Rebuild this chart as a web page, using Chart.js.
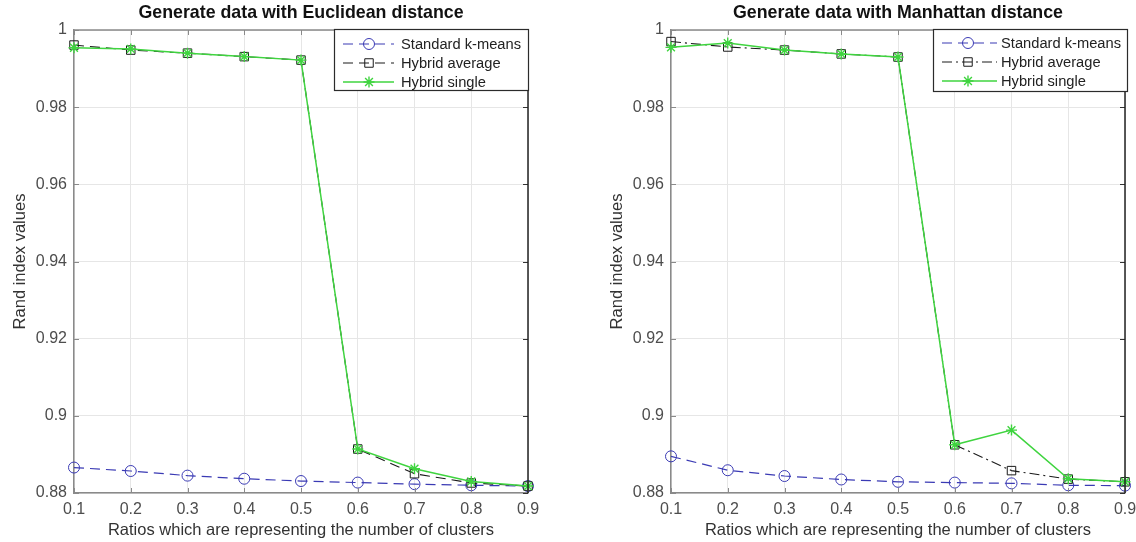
<!DOCTYPE html>
<html>
<head>
<meta charset="utf-8">
<script src="https://cdn.jsdelivr.net/npm/chart.js@4/dist/chart.umd.min.js"></script>
<style>
  html, body { margin: 0; padding: 0; background: #ffffff; }
  #wrap { position: relative; width: 1136px; height: 542px; overflow: hidden; }
  .panel { position: absolute; top: 0; height: 542px; }
</style>
</head>
<body>
<div id="wrap">
  <div class="panel" style="left:0;width:560px"><canvas id="euclid" width="560" height="542"></canvas></div>
  <div class="panel" style="left:568px;width:568px"><canvas id="manhattan" width="568" height="542"></canvas></div>
</div>
<script>
// Ratios on the x axis and the Rand index tick marks
const xTickLabels = ['0.1', '0.2', '0.3', '0.4', '0.5', '0.6', '0.7', '0.8', '0.9'];
const yTickValues = [0.88, 0.9, 0.92, 0.94, 0.96, 0.98, 1];
const yTickLabels = ['0.88', '0.9', '0.92', '0.94', '0.96', '0.98', '1'];

const seriesNames = ['Standard k-means', 'Hybrid average', 'Hybrid single'];

// Euclidean distance
const kmeansEuclid  = [0.8866, 0.8857, 0.8845, 0.8837, 0.8831, 0.8827, 0.8823, 0.8820, 0.8818];
const averageEuclid = [0.9961, 0.9948, 0.9940, 0.9931, 0.9922, 0.8914, 0.8850, 0.8826, 0.8818];
const singleEuclid  = [0.9954, 0.9951, 0.9940, 0.9931, 0.9922, 0.8914, 0.8863, 0.8830, 0.8818];

// Manhattan distance
const kmeansManhattan  = [0.8895, 0.8859, 0.8844, 0.8835, 0.8829, 0.8827, 0.8825, 0.8820, 0.8819];
const averageManhattan = [0.9970, 0.9956, 0.9948, 0.9938, 0.9930, 0.8925, 0.8858, 0.8836, 0.8829];
const singleManhattan  = [0.9955, 0.9966, 0.9948, 0.9938, 0.9930, 0.8925, 0.8963, 0.8837, 0.8829];

const FONT = '"Liberation Sans", Arial, Helvetica, sans-serif';
const BLUE = '#3a3ab4';
const BLACK = '#1a1a1a';
const GREEN = '#3fd43f';

// Title centred over the plot area
const plotTitle = {
  id: 'plotTitle',
  afterDraw(chart, args, opts) {
    const { ctx, chartArea } = chart;
    ctx.save();
    ctx.font = 'bold 17.8px ' + FONT;
    ctx.fillStyle = '#111';
    ctx.textAlign = 'center';
    ctx.textBaseline = 'middle';
    ctx.fillText(opts.text, (chartArea.left + chartArea.right) / 2, 13);
    ctx.restore();
  }
};

// Box around the plot with inward tick marks on all four sides
const axesBox = {
  id: 'axesBox',
  afterDatasetsDraw(chart) {
    const { ctx, chartArea: a, scales } = chart;
    const L = 5;
    ctx.save();
    ctx.lineWidth = 1;
    ctx.strokeStyle = '#8a8a8a';
    ctx.beginPath();
    scales.x.ticks.forEach((t, i) => {
      const px = Math.round(scales.x.getPixelForTick(i)) + 0.5;
      ctx.moveTo(px, a.bottom); ctx.lineTo(px, a.bottom - L);
      ctx.moveTo(px, a.top); ctx.lineTo(px, a.top + L);
    });
    yTickValues.forEach(v => {
      const py = Math.round(scales.y.getPixelForValue(v)) + 0.5;
      ctx.moveTo(a.left, py); ctx.lineTo(a.left + L, py);
    });
    ctx.stroke();
    ctx.strokeStyle = '#333';
    ctx.beginPath();
    yTickValues.forEach(v => {
      const py = Math.round(scales.y.getPixelForValue(v)) + 0.5;
      ctx.moveTo(a.right, py); ctx.lineTo(a.right - L, py);
    });
    ctx.stroke();
    ctx.lineWidth = 1.5;
    ctx.strokeStyle = '#8a8a8a';
    ctx.beginPath();
    ctx.moveTo(a.left, a.top); ctx.lineTo(a.right, a.top);
    ctx.stroke();
    ctx.strokeStyle = '#222';
    ctx.beginPath();
    ctx.moveTo(a.right, a.top); ctx.lineTo(a.right, a.bottom);
    ctx.stroke();
    ctx.restore();
  }
};

// Legend box in the upper right corner of the plot
const insetLegend = {
  id: 'insetLegend',
  afterDraw(chart, args, o) {
    const { ctx, chartArea } = chart;
    const x0 = chartArea.right + o.dx - o.width;
    const y0 = chartArea.top + o.dy;
    ctx.save();
    ctx.fillStyle = '#fff';
    ctx.fillRect(x0, y0, o.width, o.height);
    ctx.strokeStyle = '#2b2b2b';
    ctx.lineWidth = 1.2;
    ctx.strokeRect(x0 + 0.5, y0 + 0.5, o.width, o.height);
    chart.data.datasets.forEach((ds, i) => {
      const y = y0 + o.rowTop + i * o.rowGap;
      ctx.strokeStyle = ds.borderColor;
      ctx.lineWidth = ds.borderWidth;
      ctx.setLineDash(ds.borderDash || []);
      ctx.beginPath();
      ctx.moveTo(x0 + o.lineStart, y);
      ctx.lineTo(x0 + o.lineEnd, y);
      ctx.stroke();
      ctx.setLineDash([]);
      ctx.fillStyle = 'rgba(0,0,0,0)';
      ctx.strokeStyle = ds.pointBorderColor;
      ctx.lineWidth = ds.pointBorderWidth;
      Chart.helpers.drawPoint(ctx, {
        pointStyle: ds.pointStyle, rotation: 0,
        radius: ds.pointRadius, borderWidth: ds.pointBorderWidth
      }, x0 + o.marker, y);
      ctx.font = '14.7px ' + FONT;
      ctx.fillStyle = '#222';
      ctx.textAlign = 'left';
      ctx.textBaseline = 'middle';
      ctx.fillText(ds.label, x0 + o.textX, y + 1);
    });
    ctx.restore();
  }
};

function makeChart(id, title, kmeans, average, single, avgDash, geom) {
  const datasets = [
    {
      label: seriesNames[0], data: kmeans, order: 2,
      borderColor: BLUE, borderWidth: 1.2, borderDash: [10, 6],
      pointStyle: 'circle', pointRadius: 5.5, pointBorderWidth: 1,
      pointBorderColor: BLUE, pointBackgroundColor: 'rgba(0,0,0,0)'
    },
    {
      label: seriesNames[1], data: average, order: 1,
      borderColor: BLACK, borderWidth: 1.1, borderDash: avgDash,
      pointStyle: 'rect', pointRadius: 6, pointBorderWidth: 1,
      pointBorderColor: BLACK, pointBackgroundColor: 'rgba(0,0,0,0)'
    },
    {
      label: seriesNames[2], data: single, order: 0,
      borderColor: GREEN, borderWidth: 1.5, borderDash: [],
      pointStyle: 'star', pointRadius: 5.5, pointBorderWidth: 1.4,
      pointBorderColor: GREEN, pointBackgroundColor: 'rgba(0,0,0,0)'
    }
  ];
  datasets.forEach(d => { d.tension = 0; d.clip = false; d.fill = false; });

  return new Chart(document.getElementById(id), {
    type: 'line',
    data: { labels: xTickLabels, datasets },
    plugins: [plotTitle, axesBox, insetLegend],
    options: {
      responsive: false,
      animation: false,
      devicePixelRatio: 1,
      layout: { padding: { top: 30, right: geom.rightPad, bottom: 0, left: 0 } },
      plugins: {
        legend: { display: false },
        tooltip: { enabled: false },
        plotTitle: { text: title },
        insetLegend: geom.legend
      },
      scales: {
        x: {
          type: 'category',
          offset: false,
          afterFit: s => { s.height = 49; s.paddingLeft = 0; s.paddingRight = 0; },
          grid: { color: '#e6e6e6', lineWidth: 1, drawTicks: false, offset: false },
          border: { color: '#8a8a8a', width: 1.5 },
          ticks: { color: '#4d4d4d', font: { family: FONT, size: 16 }, padding: 7, maxRotation: 0, autoSkip: false },
          title: {
            display: true, text: 'Ratios which are representing the number of clusters',
            color: '#333', font: { family: FONT, size: 16.5 }, padding: { top: 0, bottom: 2 }
          }
        },
        y: {
          type: 'linear', min: 0.88, max: 1,
          afterBuildTicks: s => { s.ticks = yTickValues.map(v => ({ value: v })); },
          afterFit: s => { s.width = geom.plotLeft; s.paddingTop = 0; s.paddingBottom = 0; },
          grid: { color: '#e6e6e6', lineWidth: 1, drawTicks: false },
          border: { color: '#8a8a8a', width: 1.5 },
          ticks: {
            color: '#4d4d4d', font: { family: FONT, size: 16 }, padding: 7,
            callback: (v, i) => yTickLabels[i]
          },
          title: {
            display: true, text: 'Rand index values',
            color: '#333', font: { family: FONT, size: 16.5 }, padding: { top: geom.yTitlePad, bottom: 0 }
          }
        }
      }
    }
  });
}

makeChart('euclid', 'Generate data with Euclidean distance',
  kmeansEuclid, averageEuclid, singleEuclid, [10, 6],
  {
    plotLeft: 74, rightPad: 32, yTitlePad: 11,
    legend: { dx: 0, dy: -1, width: 194, height: 61, rowTop: 15, rowGap: 19,
              lineStart: 9, lineEnd: 60, marker: 35, textX: 67 }
  });

makeChart('manhattan', 'Generate data with Manhattan distance',
  kmeansManhattan, averageManhattan, singleManhattan, [10, 4, 2, 4],
  {
    plotLeft: 103, rightPad: 11, yTitlePad: 40,
    legend: { dx: 2, dy: -1, width: 194, height: 62, rowTop: 14, rowGap: 19,
              lineStart: 9, lineEnd: 64, marker: 35, textX: 68 }
  });
</script>
</body>
</html>
